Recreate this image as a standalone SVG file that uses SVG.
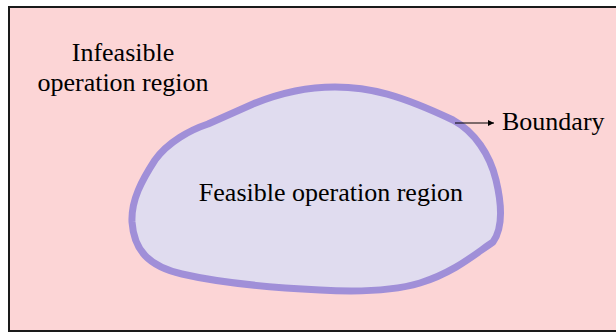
<svg xmlns="http://www.w3.org/2000/svg" width="616" height="333" viewBox="0 0 616 333">
  <style>
    .lbl { font-family: "Liberation Serif", "Times New Roman", serif; font-size: 26px; fill: #000; }
  </style>
  <defs>
    <marker id="ah" markerWidth="6" markerHeight="6" refX="6" refY="3" orient="auto" markerUnits="userSpaceOnUse">
      <path d="M0,0 L6,3 L0,6 Z" fill="#000"/>
    </marker>
  </defs>
  <rect width="616" height="333" fill="#ffffff"/>
  <g id="infeasible-region">
    <rect x="9" y="7" width="620" height="324" fill="#FCD5D6" stroke="#1a1a1a" stroke-width="2"/>
    <text class="lbl" x="123" y="61" text-anchor="middle">Infeasible</text>
    <text class="lbl" x="123" y="91" text-anchor="middle">operation region</text>
  </g>
  <g id="feasible-region">
    <path d="M208,124 L253,104 C270,97 300,87 335,87 C370,87 400,95 453,120 C475,132 490,155 496,180 C502,205 503,228 493,242 C475,254 455,272 420,283 C390,292 355,292 320,290 C280,288 225,284 182,274 C148,266 134,250 132,222 C131,200 142,180 155,160 C168,142 190,130 208,124 Z" fill="#E0DCEF" stroke="#A08FD8" stroke-width="7" stroke-linejoin="round"/>
    <text class="lbl" x="331" y="201" text-anchor="middle">Feasible operation region</text>
  </g>
  <g id="boundary-label">
    <text class="lbl" x="502" y="130">Boundary</text>
  </g>
  <g id="connectors">
    <line x1="455" y1="123" x2="494" y2="123" stroke="#000" stroke-width="1.2" marker-end="url(#ah)"/>
  </g>
</svg>
